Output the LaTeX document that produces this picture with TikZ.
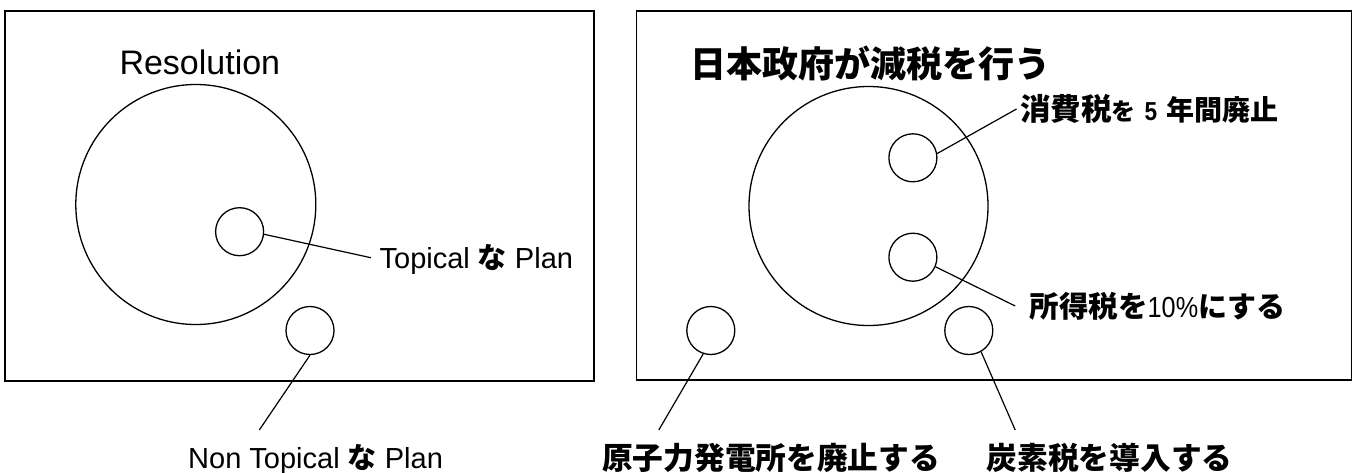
\documentclass[tikz,border=0pt]{standalone}
\usepackage{fontspec}
\setmainfont{Liberation Sans}
\newfontfamily\jp{Noto Sans CJK JP}
\newfontfamily\narrow{Liberation Sans}[FakeStretch=0.87]
\newcommand\fs[1]{\fontsize{#1}{#1}\selectfont}
\begin{document}
\begin{tikzpicture}[x=1pt,y=-1pt,
  frame/.style={draw, line width=1.8pt, inner sep=0},
  bub/.style={draw, circle, line width=1.3pt, minimum size=48pt, inner sep=0},
  big/.style={draw, circle, line width=1.3pt, minimum size=240pt, inner sep=0},
  lead/.style={line width=1.2pt},
  txt/.style={inner sep=0, font=\fs{29}},
  jtxt/.style={inner sep=0, font=\jp\bfseries\fs{30.7}}]
\useasboundingbox (0,0) rectangle (1356,472);
% frames
\node[frame, minimum width=589pt, minimum height=370pt] (boxL) at (299.6,195.7) {};
\node[frame, minimum width=715pt, minimum height=369.3pt] (boxR) at (994,195.3) {};
% left panel
\node[big] (resC) at (195.8,204.5) {};
\node[bub] (T) at (239.6,231.7) {};
\node[bub] (NT) at (310,330.5) {};
\node[txt, anchor=base west] (resL) at (119.3,74) {\fs{34}Resolution};
\node[txt, anchor=base west] (topL) at (379.4,268) {Topical {\jp\bfseries な} Plan};
\node[txt, anchor=base west] (ntL) at (188,468) {Non Topical {\jp\bfseries な} Plan};
\coordinate (eT) at (370.8,257.7);
\coordinate (eNT) at (259.3,430);
\draw[lead] (T.-6) -- (eT);
\draw[lead] (NT.south) -- (eNT);
% right panel
\node[big, minimum size=239pt] (resR) at (868.5,206) {};
\node[bub] (c1) at (912.9,157.8) {};
\node[bub] (c2) at (912.9,257.2) {};
\node[bub] (c3) at (710.8,330.5) {};
\node[bub] (c4) at (968.8,330.5) {};
\node[jtxt, anchor=west, font=\jp\bfseries\fs{36}] (title) at (690.3,64) {日本政府が減税を行う};
\node[jtxt, anchor=west] (l1) at (1019.8,109) {{\fs{30.5}消費税}{\fs{24}を}\hspace{9pt}{\narrow\bfseries\fs{26}5}\hspace{9pt}{\fs{28}年間廃止}};
\node[jtxt, anchor=west] (l2) at (1029.5,306.5) {{\fs{29.5}所得税を}{\narrow\mdseries\fs{29}10\%}{\fs{29}にする}};
\node[jtxt, anchor=west] (l3) at (602,458) {原子力発電所を廃止する};
\node[jtxt, anchor=west] (l4) at (986.6,458) {炭素税を導入する};
\coordinate (e1) at (1016.5,109);
\coordinate (e2) at (1015.2,306);
\coordinate (e3) at (658.8,430);
\coordinate (e4) at (1015.2,430);
\draw[lead] (c1.10) -- (e1);
\draw[lead] (c2.-23) -- (e2);
\draw[lead] (c3.-108) -- (e3);
\draw[lead] (c4.-60) -- (e4);
\end{tikzpicture}
\end{document}
